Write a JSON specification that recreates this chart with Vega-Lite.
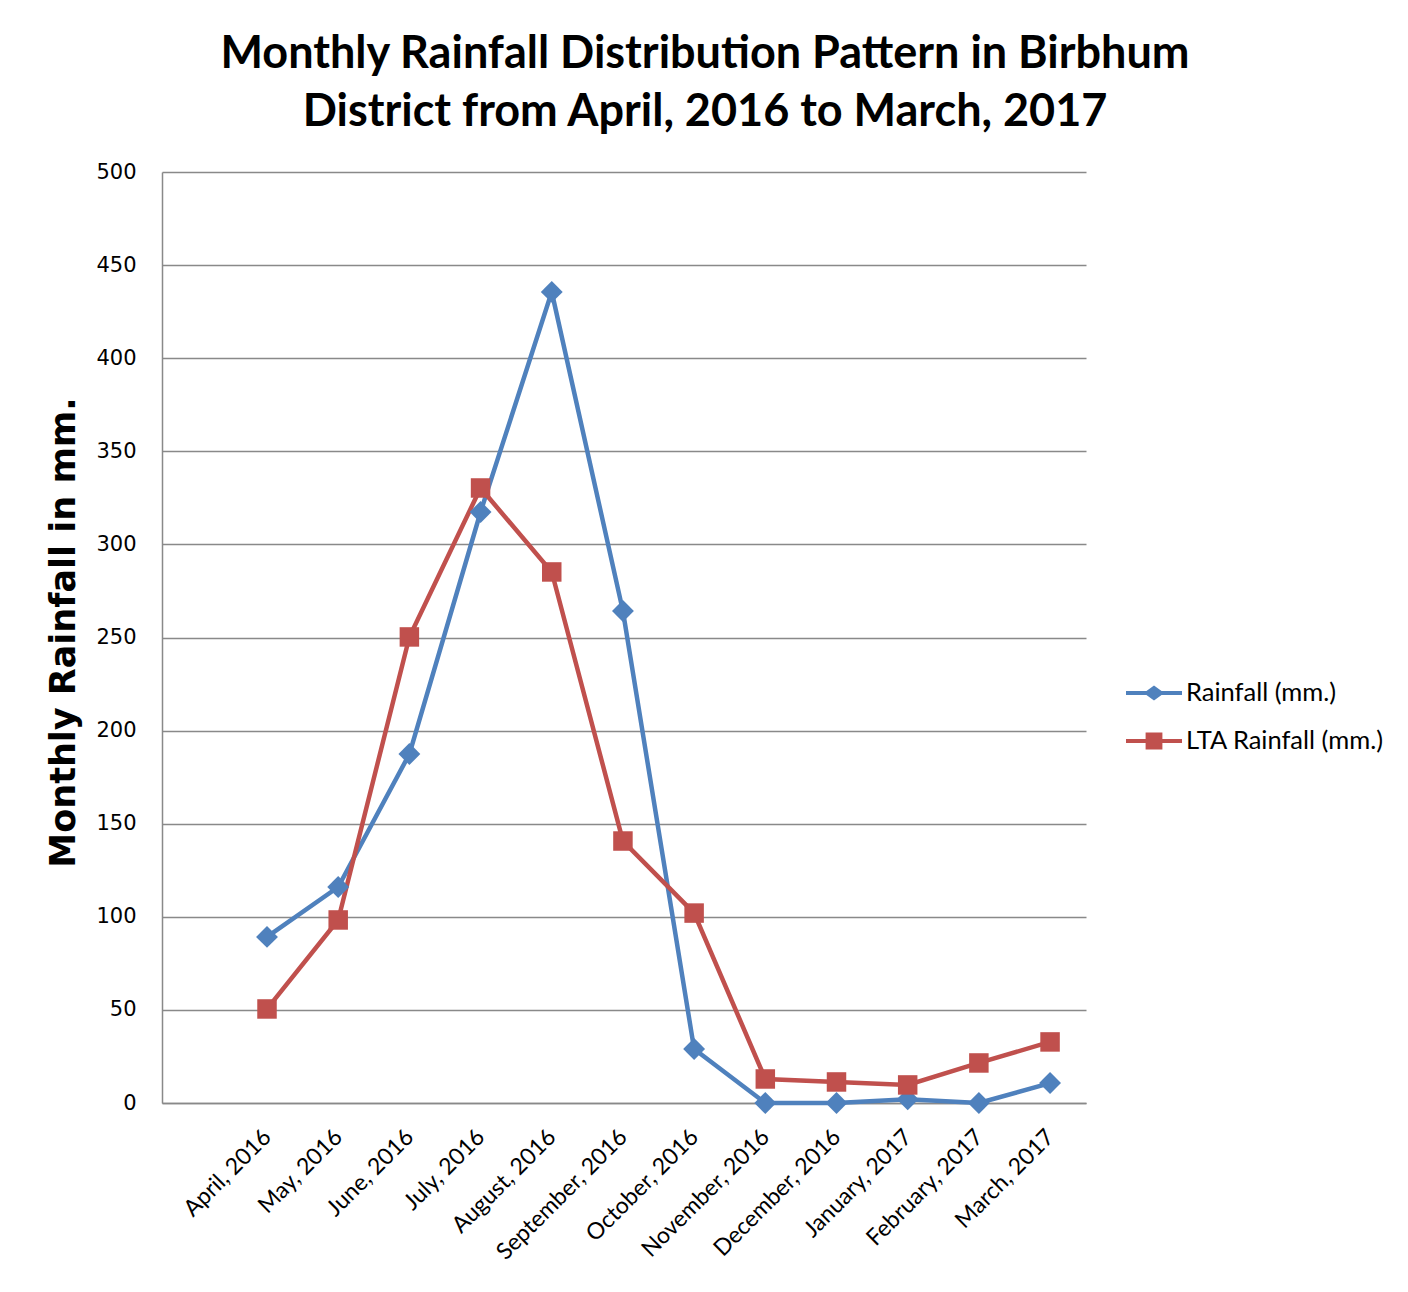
{
  "$schema": "https://vega.github.io/schema/vega-lite/v6.json",
  "width": 924,
  "height": 931,
  "autosize": {"type": "none"},
  "padding": {"left": 162, "top": 172, "right": 322, "bottom": 189},
  "background": "white",
  "title": {
    "text": ["Monthly Rainfall Distribution Pattern in Birbhum", "District from April, 2016 to March, 2017"],
    "font": "Lato",
    "fontSize": 45,
    "fontWeight": "bold",
    "color": "#000000",
    "anchor": "middle",
    "dx": 81,
    "lineHeight": 58,
    "offset": 26
  },
  "config": {
    "view": {"stroke": null},
    "axis": {"labelColor": "#000000", "titleColor": "#000000"}
  },
  "data": {
    "values": [
      {"month": "April, 2016", "series": "Rainfall (mm.)", "value": 89.2},
      {"month": "May, 2016", "series": "Rainfall (mm.)", "value": 116},
      {"month": "June, 2016", "series": "Rainfall (mm.)", "value": 187.4},
      {"month": "July, 2016", "series": "Rainfall (mm.)", "value": 317.4},
      {"month": "August, 2016", "series": "Rainfall (mm.)", "value": 435.6},
      {"month": "September, 2016", "series": "Rainfall (mm.)", "value": 264.2},
      {"month": "October, 2016", "series": "Rainfall (mm.)", "value": 29},
      {"month": "November, 2016", "series": "Rainfall (mm.)", "value": 0},
      {"month": "December, 2016", "series": "Rainfall (mm.)", "value": 0},
      {"month": "January, 2017", "series": "Rainfall (mm.)", "value": 2},
      {"month": "February, 2017", "series": "Rainfall (mm.)", "value": 0},
      {"month": "March, 2017", "series": "Rainfall (mm.)", "value": 10.7},
      {"month": "April, 2016", "series": "LTA Rainfall (mm.)", "value": 50.5},
      {"month": "May, 2016", "series": "LTA Rainfall (mm.)", "value": 98.3},
      {"month": "June, 2016", "series": "LTA Rainfall (mm.)", "value": 250.3},
      {"month": "July, 2016", "series": "LTA Rainfall (mm.)", "value": 330.3},
      {"month": "August, 2016", "series": "LTA Rainfall (mm.)", "value": 285.2},
      {"month": "September, 2016", "series": "LTA Rainfall (mm.)", "value": 140.7},
      {"month": "October, 2016", "series": "LTA Rainfall (mm.)", "value": 102},
      {"month": "November, 2016", "series": "LTA Rainfall (mm.)", "value": 12.9},
      {"month": "December, 2016", "series": "LTA Rainfall (mm.)", "value": 11.3},
      {"month": "January, 2017", "series": "LTA Rainfall (mm.)", "value": 9.7},
      {"month": "February, 2017", "series": "LTA Rainfall (mm.)", "value": 21.5},
      {"month": "March, 2017", "series": "LTA Rainfall (mm.)", "value": 32.8}
    ]
  },
  "encoding": {
    "x": {
      "field": "month",
      "type": "ordinal",
      "sort": null,
      "scale": {"type": "point", "padding": 0.99, "align": 0.745},
      "axis": {
        "title": null,
        "labelAngle": -45,
        "labelAlign": "right",
        "labelBaseline": "middle",
        "labelPadding": 30,
        "labelFont": "Lato",
        "labelFontSize": 23,
        "ticks": false,
        "grid": false,
        "domainColor": "#898989",
        "domainWidth": 1.5
      }
    },
    "y": {
      "field": "value",
      "type": "quantitative",
      "scale": {"domain": [0, 500], "nice": false},
      "axis": {
        "title": "Monthly Rainfall in mm.",
        "titleFont": "DejaVu Sans",
        "titleFontSize": 35,
        "titleFontWeight": "bold",
        "titleX": -99,
        "titleY": 460,
        "titleAngle": -90,
        "titleAlign": "center",
        "titleBaseline": "middle",
        "values": [0, 50, 100, 150, 200, 250, 300, 350, 400, 450, 500],
        "labelFont": "DejaVu Sans",
        "labelFontSize": 21,
        "labelPadding": 26,
        "ticks": false,
        "grid": true,
        "gridColor": "#898989",
        "gridWidth": 1.5,
        "domainColor": "#898989",
        "domainWidth": 1.5
      }
    },
    "color": {
      "field": "series",
      "type": "nominal",
      "scale": {"domain": ["Rainfall (mm.)", "LTA Rainfall (mm.)"], "range": ["#4F81BD", "#C0504D"]},
      "legend": {
        "title": null,
        "orient": "none",
        "legendX": 964,
        "legendY": 493,
        "labelFont": "Lato",
        "labelFontSize": 25.5,
        "labelColor": "#000000",
        "labelOffset": 4,
        "labelLimit": 400,
        "rowPadding": 6,
        "symbolSize": 3136,
        "symbolStrokeWidth": 0,
        "symbolOpacity": 1,
        "encode": {
          "symbols": {
            "update": {
              "shape": {"signal": "datum.value === 'Rainfall (mm.)' ? 'M-1,-0.075H-0.27L0,-0.27L0.27,-0.075H1V0.075H0.27L0,0.27L-0.27,0.075H-1Z' : 'M-1,-0.075H-0.3V-0.3H0.3V-0.075H1V0.075H0.3V0.3H-0.3V0.075H-1Z'"},
              "fill": {"signal": "datum.value === 'Rainfall (mm.)' ? '#4F81BD' : '#C0504D'"},
              "strokeWidth": {"value": 0},
              "opacity": {"value": 1}
            }
          }
        }
      }
    }
  },
  "layer": [
    {
      "mark": {"type": "line", "strokeWidth": 4.5}
    },
    {
      "transform": [{"filter": "datum.series === 'Rainfall (mm.)'"}],
      "mark": {"type": "point", "filled": true, "opacity": 1, "shape": "diamond", "size": 480}
    },
    {
      "transform": [{"filter": "datum.series === 'LTA Rainfall (mm.)'"}],
      "mark": {"type": "point", "filled": true, "opacity": 1, "shape": "square", "size": 380}
    }
  ]
}
